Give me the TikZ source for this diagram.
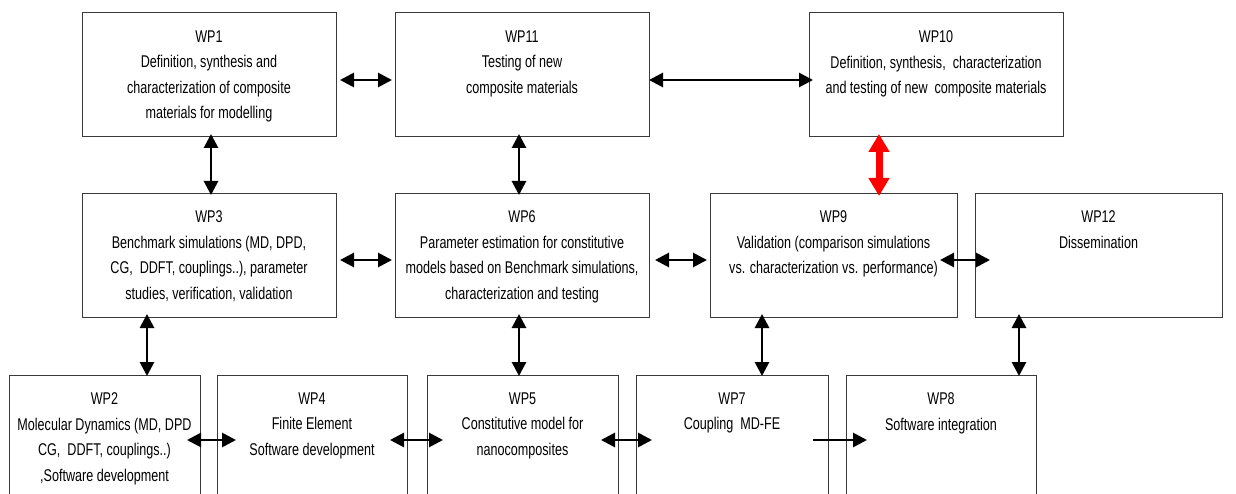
\documentclass[tikz,border=0pt]{standalone}
\usepackage{fontspec}
\setmainfont{Liberation Sans}[FakeStretch=0.74]
\usetikzlibrary{arrows.meta,calc}
\definecolor{boxline}{HTML}{3A3A3A}
\tikzset{
  wpbox/.style={draw=boxline, line width=1pt, rectangle, inner sep=0pt, outer sep=0pt, anchor=north west, fill=white},
  wptext/.style={anchor=north, align=center, inner sep=0pt, font=\fontsize{17pt}{25.5pt}\selectfont},
  tipx/.tip={Triangle[length=14pt,width=14pt]},
  arr/.style={line width=2.8pt, tipx-tipx},
  onearr/.style={line width=2.8pt, -tipx},
  redarr/.style={draw=red, line width=7pt, {Triangle[length=18pt,width=20pt]}-{Triangle[length=18pt,width=20pt]}}
}
\begin{document}
\begin{tikzpicture}[x=1pt,y=-1pt]
\useasboundingbox (0,0) rectangle (1236,494);
\clip (0,0) rectangle (1236,494);
% row 1
\node[wpbox, minimum width=254pt, minimum height=124pt] (wp1) at (82,13) {};
\node[wpbox, minimum width=254pt, minimum height=124pt] (wp11) at (395,13) {};
\node[wpbox, minimum width=254pt, minimum height=124pt] (wp10) at (809,13) {};
% row 2
\node[wpbox, minimum width=254pt, minimum height=123pt] (wp3) at (82,194) {};
\node[wpbox, minimum width=254pt, minimum height=123pt] (wp6) at (395,194) {};
\node[wpbox, minimum width=247pt, minimum height=123pt] (wp9) at (710,194) {};
\node[wpbox, minimum width=247pt, minimum height=123pt] (wp12) at (975,194) {};
% row 3
\node[wpbox, minimum width=191pt, minimum height=150pt] (wp2) at (9,375) {};
\node[wpbox, minimum width=190pt, minimum height=150pt] (wp4) at (217,375) {};
\node[wpbox, minimum width=191pt, minimum height=150pt] (wp5) at (427,375) {};
\node[wpbox, minimum width=192pt, minimum height=150pt] (wp7) at (636,375) {};
\node[wpbox, minimum width=190pt, minimum height=150pt] (wp8) at (846,375) {};
% texts
\node[wptext] (wp1t) at ([yshift=-17.5pt]wp1.north) {WP1\\Definition, synthesis and\\characterization of composite\\materials for modelling};
\node[wptext] (wp11t) at ([yshift=-17.5pt]wp11.north) {WP11\\Testing of new\\composite materials};
\node[wptext] (wp10t) at ([yshift=-17.5pt]wp10.north) {WP10\\Definition, synthesis,\ \ characterization\\and testing of new\ \ composite materials};
\node[wptext] (wp3t) at ([yshift=-16.5pt]wp3.north) {WP3\\Benchmark simulations (MD, DPD,\\CG,\ \ DDFT, couplings..), parameter\\studies, verification, validation};
\node[wptext] (wp6t) at ([yshift=-16.5pt]wp6.north) {WP6\\Parameter estimation for constitutive\\models based on Benchmark simulations,\\characterization and testing};
\node[wptext] (wp9t) at ([yshift=-16.5pt]wp9.north) {WP9\\Validation (comparison simulations\\vs. characterization vs. performance)};
\node[wptext] (wp12t) at ([yshift=-16.5pt]wp12.north) {WP12\\Dissemination};
\node[wptext] (wp2t) at ([yshift=-17.5pt]wp2.north) {WP2\\Molecular Dynamics (MD, DPD\\CG,\ \ DDFT, couplings..)\\,Software development};
\node[wptext] (wp4t) at ([yshift=-17.5pt]wp4.north) {WP4\\Finite Element\\Software development};
\node[wptext] (wp5t) at ([yshift=-17.5pt]wp5.north) {WP5\\Constitutive model for\\nanocomposites};
\node[wptext] (wp7t) at ([yshift=-17.5pt]wp7.north) {WP7\\Coupling\ \ MD-FE};
\node[wptext] (wp8t) at ([yshift=-17.5pt]wp8.north) {WP8\\Software integration};
% row 1 horizontal arrows
\draw[arr] ($(wp1.east)+(4,5)$) -- ($(wp11.west)+(-3,5)$);
\draw[arr] ($(wp11.east)+(0,5)$) -- ($(wp10.west)+(4,5)$);
% row 1 -> row 2 vertical arrows
\draw[arr] ($(wp1.south)+(2,-3)$) -- ($(wp1.south |- wp3.north)+(2,1)$);
\draw[arr] ($(wp11.south)+(-3,-3)$) -- ($(wp11.south |- wp6.north)+(-3,1)$);
\draw[redarr] ($(wp10.south)+(-57,-3)$) -- ($(wp10.south |- wp9.north)+(-57,2)$);
% row 2 horizontal arrows
\draw[arr] ($(wp3.east)+(4,4.5)$) -- ($(wp6.west)+(-3,4.5)$);
\draw[arr] ($(wp6.east)+(6,4.5)$) -- ($(wp9.west)+(-3,4.5)$);
\draw[arr] ($(wp9.east)+(-17,4.5)$) -- ($(wp12.west)+(15,4.5)$);
% row 2 -> row 3 vertical arrows
\draw[arr] ($(wp3.south)+(-62,-3)$) -- ($(wp3.south |- wp2.north)+(-62,1)$);
\draw[arr] ($(wp6.south)+(-3,-3)$) -- ($(wp6.south |- wp5.north)+(-3,1)$);
\draw[arr] ($(wp9.south)+(-71.5,-3)$) -- ($(wp9.south |- wp7.north)+(-71.5,1)$);
\draw[arr] ($(wp12.south)+(-79.5,-3)$) -- ($(wp12.south |- wp8.north)+(-79.5,1)$);
% row 3 horizontal arrows
\draw[arr] ($(wp2.north east)+(-13,65)$) -- ($(wp4.north west)+(19,65)$);
\draw[arr] ($(wp4.north east)+(-17,65)$) -- ($(wp5.north west)+(16,65)$);
\draw[arr] ($(wp5.north east)+(-17,65)$) -- ($(wp7.north west)+(16,65)$);
\draw[onearr] ($(wp7.north east)+(-15,65)$) -- ($(wp8.north west)+(21,65)$);
\end{tikzpicture}
\end{document}
